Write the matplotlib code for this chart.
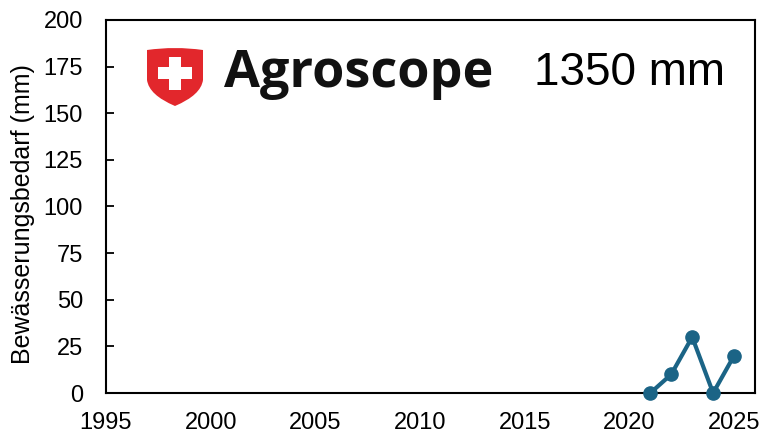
import matplotlib
matplotlib.use("Agg")
import matplotlib.pyplot as plt
from matplotlib.patches import PathPatch, Rectangle
from matplotlib.path import Path

plt.rcParams["font.family"] = ["Liberation Sans", "DejaVu Sans"]

years = [2021, 2022, 2023, 2024, 2025]
need_mm = [0, 10, 30, 0, 20]
x_ticks = [1995, 2000, 2005, 2010, 2015, 2020, 2025]
y_ticks = [0, 25, 50, 75, 100, 125, 150, 175, 200]
total_label = "1350 mm"
line_color = "#1b6486"

W, H = 764, 436
fig = plt.figure(figsize=(W / 100, H / 100), dpi=100)
ax = fig.add_axes([106 / W, 1 - 393 / H, (755 - 106) / W, (393 - 20) / H])

ax.plot(years, need_mm, color=line_color, lw=3, marker="o", ms=9.5, clip_on=False, zorder=3)
ax.set_xlim(1995, 2026)
ax.set_ylim(0, 200)
ax.set_xticks(x_ticks)
ax.set_yticks(y_ticks)
ax.tick_params(axis="y", direction="in", length=6, width=1.3, labelsize=17, pad=16.5)
ax.tick_params(axis="x", length=0, labelsize=17, pad=14)
for s in ax.spines.values():
    s.set_linewidth(1.5)
ax.set_ylabel("Bewässerungsbedarf (mm)", fontsize=18, va="center")
ax.yaxis.set_label_coords(-0.128, 0.48)

fig.text(629 / W, 1 - 73 / H, total_label, fontsize=33, ha="center", va="center")

# Agroscope logo (shield + wordmark), drawn in pixel coordinates
lx = fig.add_axes([0, 0, 1, 1], zorder=5)
lx.set_xlim(0, W)
lx.set_ylim(H, 0)
lx.axis("off")
verts = [(147, 50), (175, 46), (203, 50), (203, 80), (201, 95), (175, 106),
         (149, 95), (147, 80), (147, 50)]
codes = [Path.MOVETO, Path.CURVE3, Path.CURVE3, Path.LINETO, Path.CURVE3,
         Path.CURVE3, Path.CURVE3, Path.CURVE3, Path.CLOSEPOLY]
lx.add_patch(PathPatch(Path(verts, codes), fc="#e2272c", ec="none"))
lx.add_patch(Rectangle((169, 57), 12, 33, fc="white", ec="none"))
lx.add_patch(Rectangle((158, 67), 34, 12, fc="white", ec="none"))
lx.text(224, 73, "Agroscope", fontsize=37.5, fontweight="bold", family=["Open Sans", "DejaVu Sans"],
        ha="left", va="center", color="#111111")

fig.savefig("out.png", dpi=100)
